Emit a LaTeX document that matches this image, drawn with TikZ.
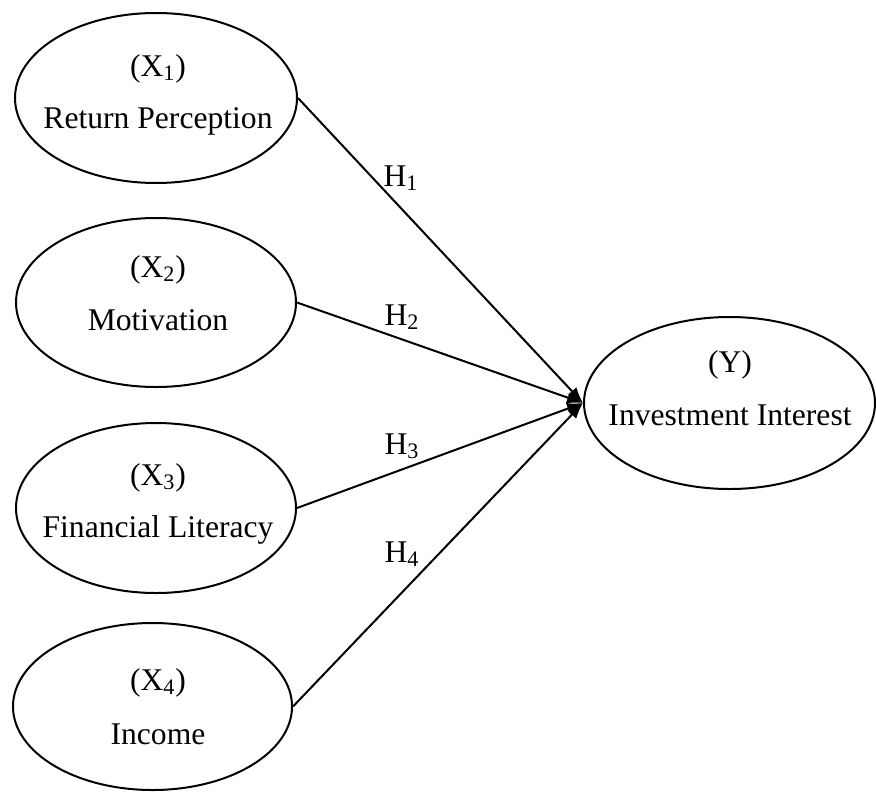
\documentclass[tikz,border=0pt]{standalone}
\usepackage{fontspec}
\setmainfont{Liberation Serif}
\usetikzlibrary{shapes.geometric,arrows.meta}
\begin{document}
\begin{tikzpicture}[x=0.5pt,y=-0.5pt,
  oval/.style={draw,line width=1pt,ellipse,inner sep=0pt},
  txt/.style={anchor=base,inner sep=0pt,font=\fontsize{15.8pt}{19pt}\selectfont},
  link/.style={line width=1pt,-{Latex[length=8pt,width=6pt]}}]
\useasboundingbox (0,0) rectangle (876,792);
\node[oval,minimum width=141pt,minimum height=85pt] (X1) at (156,98) {};
\node[oval,minimum width=140pt,minimum height=84.5pt] (X2) at (156,302.5) {};
\node[oval,minimum width=140pt,minimum height=85pt] (X3) at (156,508) {};
\node[oval,minimum width=139.5pt,minimum height=83.5pt] (X4) at (152.5,706.5) {};
\node[oval,minimum width=145.5pt,minimum height=86pt] (Y) at (729.5,403) {};
\node[txt] (t1a) at (158,76) {(X\textsubscript{1})};
\node[txt] (t1b) at (158,128) {Return Perception};
\node[txt] (t2a) at (158,277) {(X\textsubscript{2})};
\node[txt] (t2b) at (158,330) {Motivation};
\node[txt] (t3a) at (158,485) {(X\textsubscript{3})};
\node[txt] (t3b) at (158,537) {Financial Literacy};
\node[txt] (t4a) at (158,690) {(X\textsubscript{4})};
\node[txt] (t4b) at (158,744) {Income};
\node[txt] (tya) at (730,372) {(Y)};
\node[txt] (tyb) at (730,425) {Investment Interest};
\draw[link] (X1.east) -- (Y.west);
\draw[link] (X2.east) -- (Y.west);
\draw[link] (X3.east) -- (Y.west);
\draw[link] (X4.east) -- (Y.west);
\node[txt] (h1) at (401,186) {H\textsubscript{1}};
\node[txt] (h2) at (402,325) {H\textsubscript{2}};
\node[txt] (h3) at (402,454) {H\textsubscript{3}};
\node[txt] (h4) at (402,562) {H\textsubscript{4}};
\end{tikzpicture}
\end{document}
